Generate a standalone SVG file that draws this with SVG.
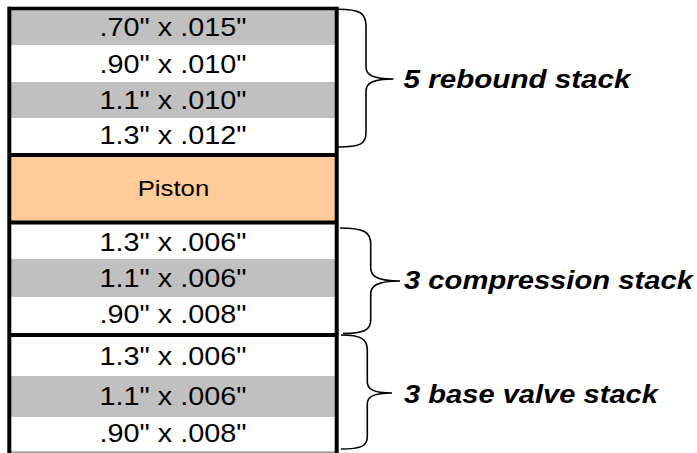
<svg xmlns="http://www.w3.org/2000/svg" width="697" height="453" viewBox="0 0 697 453">
<style>
.g{fill:#C0C0C0}
.w{fill:#FFFFFF}
.p{fill:#FFCC99}
.t{font-family:"Liberation Sans",Arial,sans-serif;font-size:25.5px;fill:#000;text-anchor:middle}
.tp{font-family:"Liberation Sans",Arial,sans-serif;font-size:22px;fill:#000;text-anchor:middle}
.lb{font-family:"Liberation Sans",Arial,sans-serif;font-size:26px;font-weight:bold;font-style:italic;fill:#000}
.sep{stroke:#000;stroke-width:4}
.br{fill:none;stroke:#000;stroke-width:1.6}
</style>
<rect width="697" height="453" fill="#fff"/>
<g id="r1"><rect class="g" x="9" y="9" width="328" height="36"/><text class="t" x="173" y="35.7" textLength="147" lengthAdjust="spacingAndGlyphs">.70" x .015"</text></g>
<g id="r2"><rect class="w" x="9" y="45" width="328" height="37"/><text class="t" x="173" y="73" textLength="147" lengthAdjust="spacingAndGlyphs">.90" x .010"</text></g>
<g id="r3"><rect class="g" x="9" y="82" width="328" height="36"/><text class="t" x="173" y="108.5" textLength="147" lengthAdjust="spacingAndGlyphs">1.1" x .010"</text></g>
<g id="r4"><rect class="w" x="9" y="118" width="328" height="35"/><text class="t" x="173" y="143.5" textLength="147" lengthAdjust="spacingAndGlyphs">1.3" x .012"</text></g>
<g id="piston"><rect class="p" x="9" y="155" width="328" height="67"/><text class="tp" x="173.5" y="196" textLength="71.6" lengthAdjust="spacingAndGlyphs">Piston</text></g>
<g id="c1"><rect class="w" x="9" y="224" width="328" height="35"/><text class="t" x="173" y="250.7" textLength="147" lengthAdjust="spacingAndGlyphs">1.3" x .006"</text></g>
<g id="c2"><rect class="g" x="9" y="259" width="328" height="38"/><text class="t" x="173" y="286.7" textLength="147" lengthAdjust="spacingAndGlyphs">1.1" x .006"</text></g>
<g id="c3"><rect class="w" x="9" y="297" width="328" height="37"/><text class="t" x="173" y="323.3" textLength="147" lengthAdjust="spacingAndGlyphs">.90" x .008"</text></g>
<g id="b1"><rect class="w" x="9" y="336" width="328" height="40"/><text class="t" x="173" y="365" textLength="147" lengthAdjust="spacingAndGlyphs">1.3" x .006"</text></g>
<g id="b2"><rect class="g" x="9" y="376" width="328" height="41"/><text class="t" x="173" y="405" textLength="147" lengthAdjust="spacingAndGlyphs">1.1" x .006"</text></g>
<g id="b3"><rect class="w" x="9" y="417" width="328" height="35"/><text class="t" x="173" y="441.7" textLength="147" lengthAdjust="spacingAndGlyphs">.90" x .008"</text></g>
<g id="frame">
<line class="sep" x1="9" y1="8.5" x2="337" y2="8.5" style="stroke-width:3.5"/>
<line class="sep" x1="9" y1="155" x2="337" y2="155"/>
<line class="sep" x1="9" y1="222.5" x2="337" y2="222.5"/>
<line class="sep" x1="9" y1="335" x2="337" y2="335"/>
<line x1="9" y1="452.2" x2="337" y2="452.2" stroke="#808080" stroke-width="1.2"/>
<line class="sep" x1="9.3" y1="6.8" x2="9.3" y2="453"/>
<line class="sep" x1="336.7" y1="6.8" x2="336.7" y2="453"/>
</g>
<g id="connectors">
<path class="br" d="M338,9.3 C360,9.3 366,13 366,26 L366,67 C366,75 373,79 393.5,79 C373,79 366,83 366,91 L366,133 C366,144 360,147 338,147"/>
<path class="br" d="M340,228 C364,228 370.7,232 370.7,244 L370.7,268 C370.7,276 377,281 400,281 C377,281 370.7,286 370.7,294 L370.7,320 C370.7,330 364,333.5 343,333.5"/>
<path class="br" d="M341,335 C361,335 367.3,339 367.3,350 L367.3,382 C367.3,389 373,393 392,393 C373,393 367.3,397 367.3,404 L367.3,437 C367.3,446 361,449 341,449"/>
</g>
<g id="labels">
<text class="lb" x="403.5" y="88" textLength="227" lengthAdjust="spacingAndGlyphs">5 rebound stack</text>
<text class="lb" x="404" y="289" textLength="289" lengthAdjust="spacingAndGlyphs">3 compression stack</text>
<text class="lb" x="404" y="403" textLength="254" lengthAdjust="spacingAndGlyphs">3 base valve stack</text>
</g>
</svg>
